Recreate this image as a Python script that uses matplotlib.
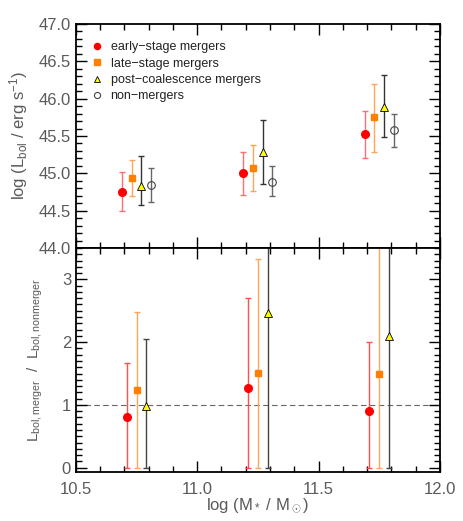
import numpy as np
import matplotlib.pyplot as plt
from matplotlib.ticker import MultipleLocator

plt.rcParams['font.family'] = ['Liberation Sans', 'DejaVu Sans']
plt.rcParams['mathtext.fontset'] = 'custom'
plt.rcParams['mathtext.rm'] = 'Liberation Sans'
plt.rcParams['mathtext.it'] = 'Liberation Sans'

# stellar mass bin centres
mass_bins = [10.75, 11.25, 11.75]

# top panel: log L_bol and its errors (upper, lower)
early_L = [44.75, 45.00, 45.52]
early_up = [0.27, 0.28, 0.32]
early_lo = [0.25, 0.29, 0.31]
late_L = [44.94, 45.07, 45.75]
late_up = [0.24, 0.31, 0.45]
late_lo = [0.25, 0.31, 0.46]
post_L = [44.83, 45.28, 45.89]
post_up = [0.40, 0.44, 0.42]
post_lo = [0.25, 0.42, 0.41]
non_L = [44.85, 44.89, 45.58]
non_up = [0.22, 0.21, 0.22]
non_lo = [0.23, 0.20, 0.23]

# bottom panel: L_bol,merger / L_bol,nonmerger (errors reach down to 0)
early_R = [0.81, 1.27, 0.90]
early_Rtop = [1.66, 2.70, 2.00]
late_R = [1.23, 1.51, 1.50]
late_Rtop = [2.48, 3.33, 4.5]
post_R = [0.99, 2.47, 2.09]
post_Rtop = [2.05, 4.5, 4.5]

fig = plt.figure(figsize=(4.63, 5.21), dpi=100)
ax1 = fig.add_axes([0.164, 0.524, 0.786, 0.430])
ax2 = fig.add_axes([0.164, 0.094, 0.786, 0.430])

txtc = '#5a5a5a'
x = np.array(mass_bins)

def pts(ax, xx, y, lo, hi, ecol, **kw):
    ax.errorbar(xx, y, yerr=[lo, hi], fmt='none', ecolor=ecol, elinewidth=1.0,
                capsize=2.5, capthick=1.0, zorder=2)
    ax.plot(xx, y, linestyle='none', zorder=3, **kw)

# top panel
pts(ax1, x - 0.06, early_L, early_lo, early_up, '#ff6f6f',
    marker='o', ms=5.5, mfc='red', mec='red', label='early\u2212stage mergers')
pts(ax1, x - 0.02, late_L, late_lo, late_up, '#ffa55a',
    marker='s', ms=5, mfc='#ff8000', mec='#ff8000', label='late\u2212stage mergers')
pts(ax1, x + 0.02, post_L, post_lo, post_up, '#333333',
    marker='^', ms=5.5, mfc='yellow', mec='black', mew=0.6, label='post\u2212coalescence mergers')
pts(ax1, x + 0.06, non_L, non_lo, non_up, '#666666',
    marker='o', ms=5.5, mfc='none', mec='#444444', mew=0.8, label='non\u2212mergers')

ax1.set_xlim(10.5, 12.0)
ax1.set_ylim(44.0, 47.0)
ax1.set_ylabel('log (L$_{\\rm bol}$ / erg s$^{-1}$)', color=txtc, fontsize=12)
ax1.yaxis.set_label_coords(-0.125, 0.5)
leg = ax1.legend(loc='upper left', frameon=False, fontsize=9, handlelength=0.8,
                 handletextpad=0.7, labelspacing=0.35, borderaxespad=0.0,
                 markerscale=0.8, bbox_to_anchor=(0.03, 0.945))
for t in leg.get_texts():
    t.set_color('#222222')

# bottom panel
ax2.axhline(1.0, color='#666666', lw=0.8, ls=(0, (5, 3)), zorder=1)
pts(ax2, x - 0.04, early_R, np.array(early_R), np.array(early_Rtop) - np.array(early_R), '#ff5050',
    marker='o', ms=5.5, mfc='red', mec='red')
pts(ax2, x, late_R, np.array(late_R), np.array(late_Rtop) - np.array(late_R), '#ffa55a',
    marker='s', ms=5, mfc='#ff8000', mec='#ff8000')
pts(ax2, x + 0.04, post_R, np.array(post_R), np.array(post_Rtop) - np.array(post_R), '#444444',
    marker='^', ms=5.5, mfc='yellow', mec='black', mew=0.6)

ax2.set_xlim(10.5, 12.0)
ax2.set_ylim(-0.07, 3.5)
ax2.set_ylabel('L$_{\\rm bol,merger}$  /  L$_{\\rm bol,nonmerger}$', color=txtc, fontsize=11)
ax2.yaxis.set_label_coords(-0.085, 0.5)
ax2.set_xlabel('log (M$_*$ / M$_\\odot$)', color=txtc, fontsize=12, labelpad=0)

for ax in (ax1, ax2):
    ax.xaxis.set_major_locator(MultipleLocator(0.5))
    ax.xaxis.set_minor_locator(MultipleLocator(0.1))
    ax.tick_params(which='both', direction='in', top=True, right=True,
                   labelsize=12, labelcolor=txtc, width=1.0)
    ax.tick_params(which='major', length=8)
    ax.tick_params(which='minor', length=4)
    ax.tick_params(axis='x', pad=7)
    for s in ax.spines.values():
        s.set_linewidth(1.3)
ax1.yaxis.set_major_locator(MultipleLocator(0.5))
ax1.yaxis.set_minor_locator(MultipleLocator(0.1))
ax1.yaxis.set_major_formatter(plt.FormatStrFormatter('%.1f'))
ax1.tick_params(labelbottom=False)
ax2.yaxis.set_major_locator(MultipleLocator(1))
ax2.yaxis.set_minor_locator(MultipleLocator(0.1))
ax2.xaxis.set_major_formatter(plt.FormatStrFormatter('%.1f'))

fig.savefig('out.png', dpi=100)
